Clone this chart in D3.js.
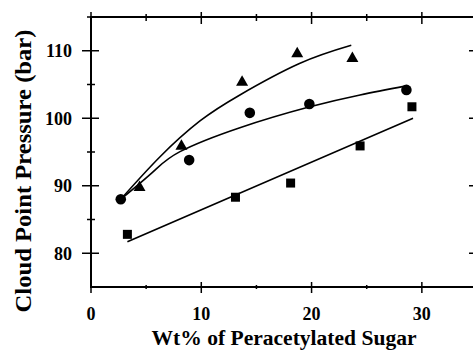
<!DOCTYPE html>
<html>
<head>
<meta charset="utf-8">
<script src="https://cdn.jsdelivr.net/npm/d3@7"></script>
<style>
  body { margin: 0; background: #fff; }
  svg { display: block; font-family: "Liberation Serif", "Times New Roman", serif; font-weight: bold; }
</style>
</head>
<body>
<div id="chart"></div>
<script>
// measured points
const triX = [4.4, 8.2, 13.7, 18.7, 23.7];
const triY = [89.9, 96.0, 105.5, 109.7, 109.0];
const circX = [2.7, 8.9, 14.4, 19.8, 28.6];
const circY = [88.0, 93.8, 100.8, 102.1, 104.2];
const sqX = [3.3, 13.1, 18.1, 24.4, 29.1];
const sqY = [82.8, 88.3, 90.4, 95.9, 101.7];

// fitted curves
const triFitX = [2.7, 6.26, 9.88, 13.5, 18.9, 23.6];
const triFitY = [88.0, 94.3, 99.6, 103.45, 108.1, 110.8];
const circFitX = [2.7, 5.65, 8.07, 13.5, 19.85, 24.4, 28.6];
const circFitY = [88.0, 92.1, 95.05, 98.6, 101.7, 103.45, 104.8];
const sqFitX = [3.3, 29.2];
const sqFitY = [81.7, 100.0];

const xTicks = [0, 10, 20, 30];
const yTicks = [80, 90, 100, 110];

const width = 473, height = 350;
const margin = { top: 17, right: -4, bottom: 63, left: 91 };

const svg = d3.select('#chart')
    .append('svg')
    .attr('width', width)
    .attr('height', height);

const x = d3.scaleLinear().domain([0, 35]).range([margin.left, width - margin.right]);
const y = d3.scaleLinear().domain([75, 115]).range([height - margin.bottom, margin.top]);

const x0 = x.range()[0], x1 = x.range()[1];
const y0 = y.range()[0], y1 = y.range()[1];

// frame
const frame = svg.append('g').attr('stroke', '#000').attr('stroke-width', 2).attr('fill', 'none');
frame.append('line').attr('x1', x0 - 1).attr('x2', x1).attr('y1', y0).attr('y2', y0);
frame.append('line').attr('x1', x0 - 1).attr('x2', x1).attr('y1', y1).attr('y2', y1);
frame.append('line').attr('x1', x0).attr('x2', x0).attr('y1', y0 + 1).attr('y2', y1 - 1);
frame.append('line').attr('x1', x1).attr('x2', x1).attr('y1', y0).attr('y2', y1);

// ticks on all four sides, major ones cross the frame
const xMajor = d3.range(0, 36, 10), xMinor = d3.range(5, 36, 10);
const yMajor = d3.range(80, 116, 10), yMinor = d3.range(85, 116, 10);
const tk = svg.append('g').attr('stroke', '#000').attr('stroke-width', 1.5);
xMajor.forEach(v => {
    tk.append('line').attr('x1', x(v)).attr('x2', x(v)).attr('y1', y0 - 5).attr('y2', y0 + 6);
    tk.append('line').attr('x1', x(v)).attr('x2', x(v)).attr('y1', y1 - 5).attr('y2', y1 + 7);
});
xMinor.forEach(v => {
    tk.append('line').attr('x1', x(v)).attr('x2', x(v)).attr('y1', y0 - 2).attr('y2', y0 + 2);
    tk.append('line').attr('x1', x(v)).attr('x2', x(v)).attr('y1', y1 - 3).attr('y2', y1 + 4);
});
yMajor.forEach(v => {
    tk.append('line').attr('x1', x0 - 9).attr('x2', x0 + 8).attr('y1', y(v)).attr('y2', y(v));
    tk.append('line').attr('x1', x1 - 8).attr('x2', x1 + 8).attr('y1', y(v)).attr('y2', y(v));
});
yMinor.forEach(v => {
    tk.append('line').attr('x1', x0 - 4).attr('x2', x0 + 4).attr('y1', y(v)).attr('y2', y(v));
    tk.append('line').attr('x1', x1 - 4).attr('x2', x1 + 4).attr('y1', y(v)).attr('y2', y(v));
});

// tick labels
svg.append('g').selectAll('text')
    .data(xTicks)
    .enter()
    .append('text')
    .attr('x', d => x(d))
    .attr('y', y0 + 33)
    .attr('text-anchor', 'middle')
    .style('font-size', '18px')
    .text(d => d);

svg.append('g').selectAll('text')
    .data(yTicks)
    .enter()
    .append('text')
    .attr('x', x0 - 19)
    .attr('y', d => y(d))
    .attr('dy', '0.35em')
    .attr('text-anchor', 'end')
    .style('font-size', '18px')
    .text(d => d);

// axis titles
svg.append('text')
    .attr('x', (x0 + x1) / 2)
    .attr('y', 345)
    .attr('text-anchor', 'middle')
    .attr('textLength', 265)
    .attr('lengthAdjust', 'spacingAndGlyphs')
    .style('font-size', '20px')
    .text('Wt% of Peracetylated Sugar');

svg.append('text')
    .attr('transform', 'translate(31,171) rotate(-90)')
    .attr('text-anchor', 'middle')
    .attr('textLength', 283)
    .attr('lengthAdjust', 'spacingAndGlyphs')
    .style('font-size', '23px')
    .text('Cloud Point Pressure (bar)');

// fit curves
const line = d3.line()
    .x(d => x(d[0]))
    .y(d => y(d[1]))
    .curve(d3.curveNatural);

const fits = [
    d3.zip(triFitX, triFitY),
    d3.zip(circFitX, circFitY),
    d3.zip(sqFitX, sqFitY)
];
svg.append('g').selectAll('path')
    .data(fits)
    .enter()
    .append('path')
    .attr('d', line)
    .attr('fill', 'none')
    .attr('stroke', '#000')
    .attr('stroke-width', 1.6);

// markers
const marks = svg.append('g').attr('fill', '#000');
marks.selectAll('.tri')
    .data(d3.zip(triX, triY))
    .enter()
    .append('path')
    .attr('class', 'tri')
    .attr('transform', d => `translate(${x(d[0])},${y(d[1])})`)
    .attr('d', 'M0,-6L6,4.5L-6,4.5Z');

marks.selectAll('.circ')
    .data(d3.zip(circX, circY))
    .enter()
    .append('circle')
    .attr('class', 'circ')
    .attr('cx', d => x(d[0]))
    .attr('cy', d => y(d[1]))
    .attr('r', 5.3);

marks.selectAll('.sq')
    .data(d3.zip(sqX, sqY))
    .enter()
    .append('rect')
    .attr('class', 'sq')
    .attr('x', d => x(d[0]) - 4.5)
    .attr('y', d => y(d[1]) - 4.5)
    .attr('width', 9)
    .attr('height', 9);
</script>
</body>
</html>
